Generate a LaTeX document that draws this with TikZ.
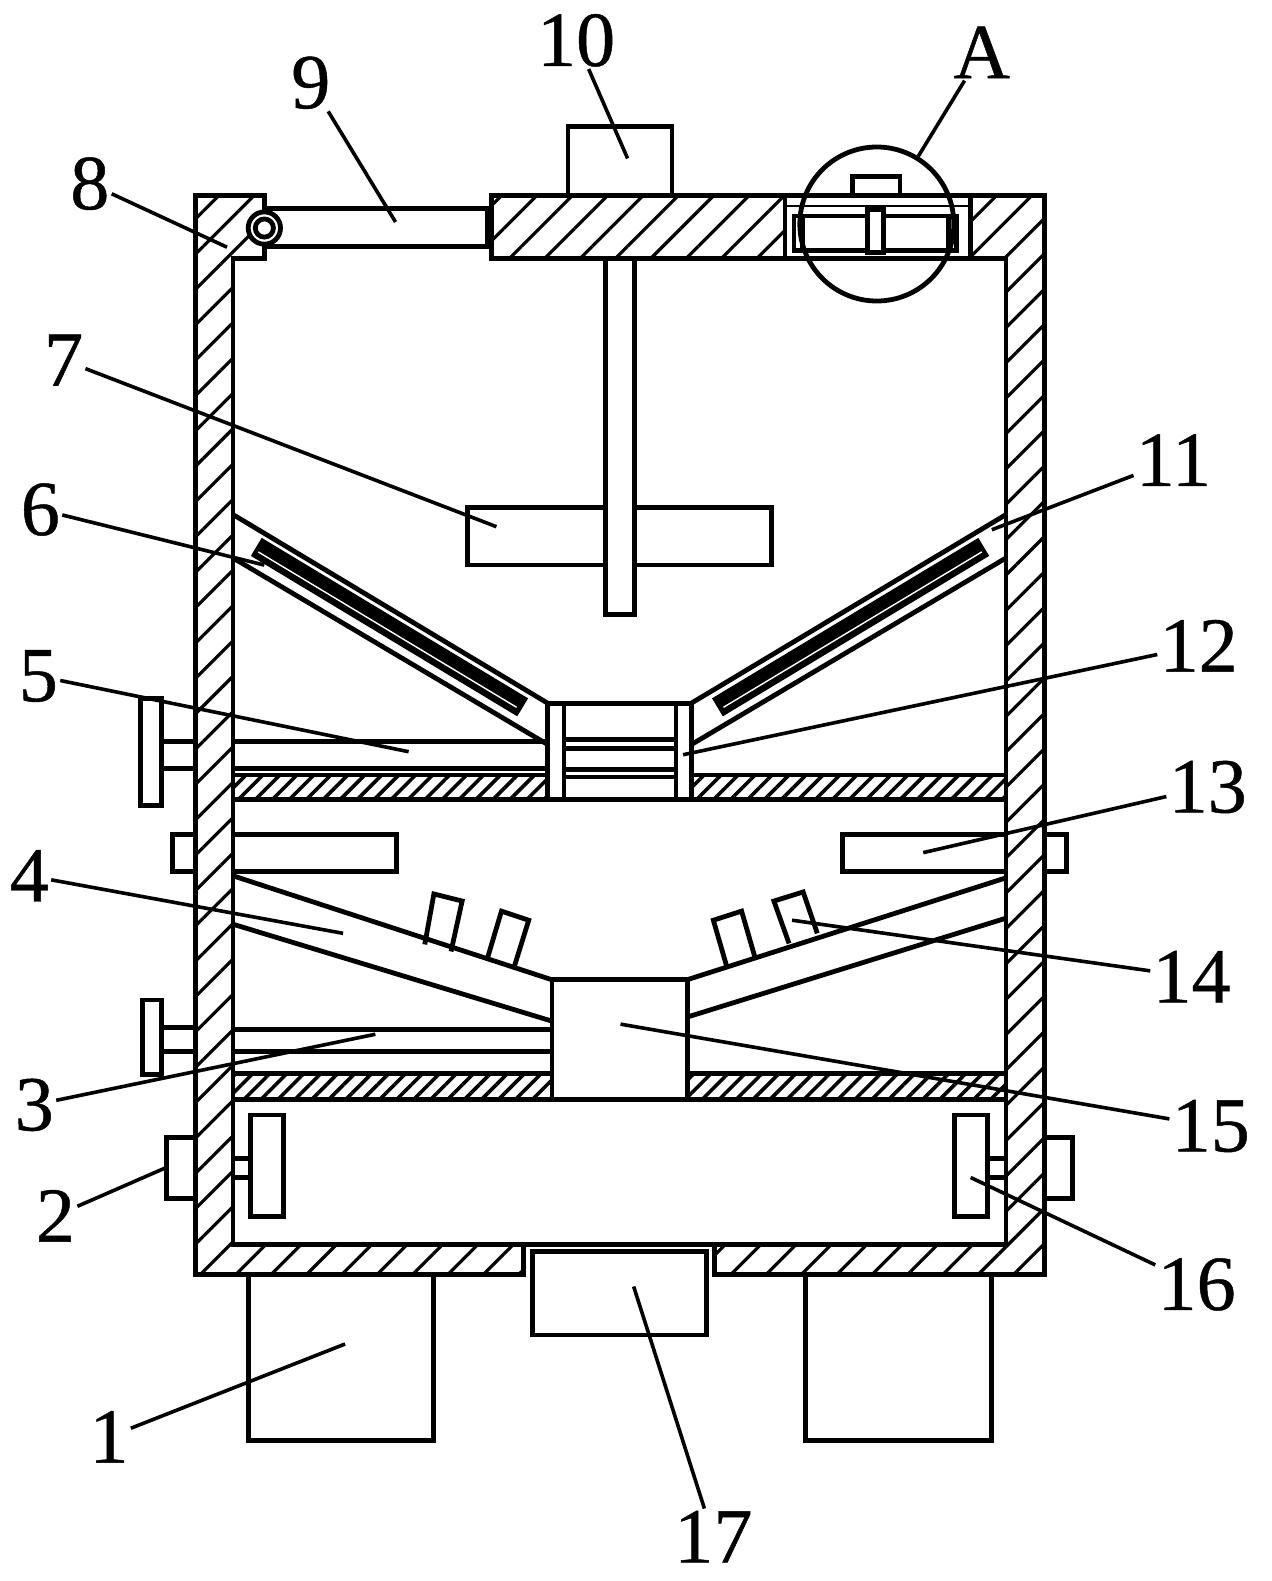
\documentclass[tikz,border=0pt]{standalone}
\usepackage{fontspec}
\setmainfont{Liberation Serif}
\usetikzlibrary{patterns.meta}
\tikzset{
  wallhatch/.style={draw,pattern={Lines[angle=45,distance=12.5pt,line width=1.6pt]}},
  floorhatch/.style={draw,pattern={Lines[angle=45,distance=6pt,line width=1.8pt]}},
  part/.style={draw,fill=white},
  numlabel/.style={font=\fontsize{39}{39}\selectfont\addfontfeature{FakeBold=0.6},inner sep=0pt},
  leader/.style={line width=1.8pt}
}
\begin{document}
\begin{tikzpicture}[x=0.5045pt,y=-0.5045pt,line width=2.4pt,line join=miter]
    \useasboundingbox (0pt,0pt) rectangle (636pt,-790.5pt);
    % walls and lid
    \draw[wallhatch] (194,194) -- (262,194) -- (262,256) -- (231,256) -- (231,1233) -- (519,1233) -- (519,1263) -- (194,1263) -- cycle;
    \draw[wallhatch] (962,194) -- (1035,194) -- (1035,1263) -- (708,1263) -- (708,1233) -- (997,1233) -- (997,256) -- (962,256) -- cycle;
    \draw[wallhatch] (487,194) rectangle (778,256);
    \draw (778,194) -- (962,194);
    \draw[line width=1.2pt] (778,204) -- (962,204);
    \draw (778,256) -- (962,256);
    \draw (519,1233) -- (708,1233);
    % floors
    \draw[floorhatch] (231,768) rectangle (543,792);
    \draw[floorhatch] (685,768) rectangle (997,792);
    \draw[floorhatch] (231,1064) rectangle (547,1090);
    \draw[floorhatch] (681,1064) rectangle (997,1090);
    \draw (543,792) -- (685,792);
    \draw (547,1090) -- (681,1090);
    % feet and motors
    \draw[part] (246,1263) rectangle (430,1428);
    \draw[part] (798,1263) rectangle (983,1428);
    \draw[part] (528,1240) rectangle (700,1323);
    \draw[part] (563,125) rectangle (666,194);
    % arm and hinge
    \draw[part] (262,207) rectangle (483,244);
    \draw[part] (262,226) circle (16);
    \draw[part] (262,226) circle (9);
    % inset at A
    \draw[part] (845,175) rectangle (892,194);
    \draw (787,214) rectangle (948,248);
    \draw (795,214) -- (795,248);
    \draw (940,214) -- (940,248);
    \draw[part] (860,208) rectangle (876,250);
    \node[circle,draw,minimum size=77pt,inner sep=0pt] (R1) at (869,222) {};
    % stirrer
    \draw[part] (463,503) rectangle (765,560);
    \draw[part] (600,256) rectangle (629,609);
    % sloped screens
    \draw (231,510) -- (543,697);
    \draw (231,553) -- (543,738);
    \draw (997,510) -- (685,697);
    \draw (997,553) -- (685,738);
    \draw[line width=10.5pt] (254,542) -- (518,701);
    \draw[line width=10.5pt] (975,542) -- (711,701);
    \draw[white,line width=0.7pt] (256,547) -- (512,701);
    \draw[white,line width=0.7pt] (973,547) -- (717,701);
    % centre tube
    \draw (543,697) rectangle (559,792);
    \draw (670,697) rectangle (685,792);
    \draw (559,697) -- (670,697);
    \draw (559,733) -- (670,733);
    \draw (559,742) -- (670,742);
    \draw (559,763) -- (670,763);
    \draw (559,770) -- (670,770);
    % upper handle
    \draw[part] (139,692) rectangle (160,798);
    \draw (160,735) -- (194,735);
    \draw (160,762) -- (194,762);
    \draw (231,735) -- (543,735);
    \draw (231,762) -- (543,762);
    % side cylinders
    \draw (194,827) -- (171,827) -- (171,864) -- (194,864);
    \draw (231,827) -- (393,827) -- (393,864) -- (231,864);
    \draw (997,827) -- (835,827) -- (835,864) -- (997,864);
    \draw (1035,827) -- (1057,827) -- (1057,864) -- (1035,864);
    % lower slopes
    \draw (231,868) -- (547,971);
    \draw (231,916) -- (547,1012);
    \draw (997,870) -- (681,971);
    \draw (997,910) -- (681,1008);
    \draw (421,936) -- (430,886) -- (458,893) -- (447,943);
    \draw (483,950) -- (497,903) -- (524,912) -- (510,957);
    \draw (720,957) -- (707,912) -- (735,903) -- (748,948);
    \draw (782,935) -- (767,893) -- (796,884) -- (810,925);
    % centre box and lower handle
    \draw[part] (547,971) rectangle (681,1090);
    \draw[part] (141,991) rectangle (160,1065);
    \draw (160,1018) -- (194,1018);
    \draw (160,1042) -- (194,1042);
    \draw (231,1020) -- (547,1020);
    \draw (231,1042) -- (547,1042);
    % bottom chamber
    \draw[part] (248,1105) rectangle (281,1206);
    \draw[part] (946,1105) rectangle (979,1206);
    \draw (231,1148) -- (248,1148);
    \draw (231,1167) -- (248,1167);
    \draw (979,1148) -- (997,1148);
    \draw (979,1167) -- (997,1167);
    \draw (194,1127) -- (165,1127) -- (165,1188) -- (194,1188);
    \draw (1035,1127) -- (1063,1127) -- (1063,1188) -- (1035,1188);
    % labels
    \node[numlabel] (N1) at (108,1424) {1};
    \node[numlabel] (N2) at (55,1205) {2};
    \node[numlabel] (N3) at (34,1095) {3};
    \node[numlabel] (N4) at (29,868) {4};
    \node[numlabel] (N5) at (38,670) {5};
    \node[numlabel] (N6) at (40,505) {6};
    \node[numlabel] (N7) at (63,357) {7};
    \node[numlabel] (N8) at (89,182) {8};
    \node[numlabel] (N9) at (308,82) {9};
    \node[numlabel] (N10) at (571,40) {10};
    \node[numlabel] (NA) at (973,52) {A};
    \node[numlabel] (N11) at (1163,456) {11};
    \node[numlabel] (N12) at (1188,640) {12};
    \node[numlabel] (N13) at (1197,780) {13};
    \node[numlabel] (N14) at (1181,968) {14};
    \node[numlabel] (N15) at (1200,1116) {15};
    \node[numlabel] (N16) at (1186,1273) {16};
    \node[numlabel] (N17) at (707,1523) {17};
    \coordinate (P1) at (342,1332);
    \coordinate (P2) at (165,1157);
    \coordinate (P3) at (372,1025);
    \coordinate (P4) at (340,925);
    \coordinate (P5) at (405,745);
    \coordinate (P6) at (262,560);
    \coordinate (P7) at (492,522);
    \coordinate (P8) at (225,245);
    \coordinate (P9) at (392,220);
    \coordinate (P10) at (622,157);
    \coordinate (P11) at (983,525);
    \coordinate (P12) at (677,748);
    \coordinate (P13) at (915,845);
    \coordinate (P14) at (785,912);
    \coordinate (P15) at (615,1015);
    \coordinate (P16) at (962,1167);
    \coordinate (P17) at (628,1275);
    \draw[leader] (N1) -- (P1);
    \draw[leader] (N2) -- (P2);
    \draw[leader] (N3) -- (P3);
    \draw[leader] (N4) -- (P4);
    \draw[leader] (N5) -- (P5);
    \draw[leader] (N6) -- (P6);
    \draw[leader] (N7) -- (P7);
    \draw[leader] (N8) -- (P8);
    \draw[leader] (N9) -- (P9);
    \draw[leader] (N10) -- (P10);
    \draw[leader] (NA) -- (R1);
    \draw[leader] (N11) -- (P11);
    \draw[leader] (N12) -- (P12);
    \draw[leader] (N13) -- (P13);
    \draw[leader] (N14) -- (P14);
    \draw[leader] (N15) -- (P15);
    \draw[leader] (N16) -- (P16);
    \draw[leader] (N17) -- (P17);
\end{tikzpicture}
\end{document}
